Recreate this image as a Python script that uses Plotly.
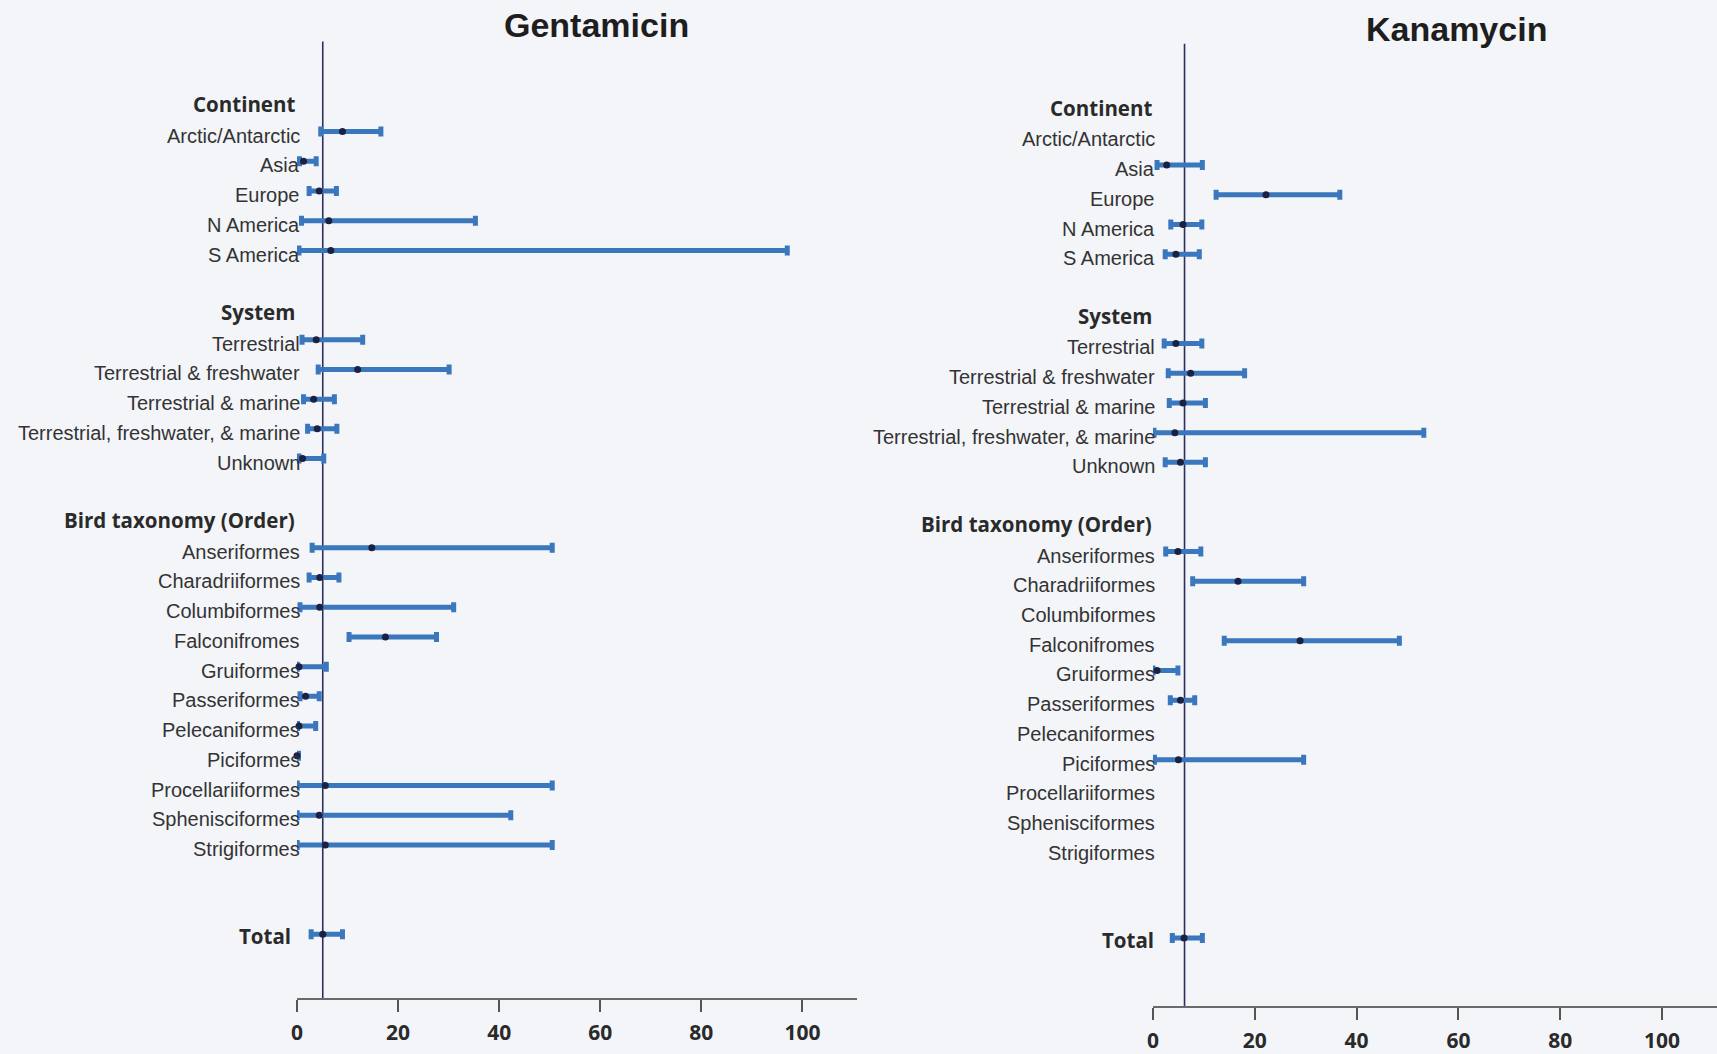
import plotly.graph_objects as go

# ---------------- data ----------------
ROW_LABELS = [
    "Continent", "Arctic/Antarctic", "Asia", "Europe", "N America", "S America", "",
    "System", "Terrestrial", "Terrestrial & freshwater", "Terrestrial & marine",
    "Terrestrial, freshwater, & marine", "Unknown", "",
    "Bird taxonomy (Order)", "Anseriformes", "Charadriiformes", "Columbiformes",
    "Falconifromes", "Gruiformes", "Passeriformes", "Pelecaniformes", "Piciformes",
    "Procellariiformes", "Sphenisciformes", "Strigiformes", "", "", "Total",
]
HEADERS = ["Continent", "System", "Bird taxonomy (Order)", "Total"]

# Gentamicin: estimate, lower, upper (None = not shown)
gen_est = [None, 9.0, 1.3, 4.4, 6.3, 6.7, None,
           None, 3.8, 12.0, 3.3, 4.0, 1.1, None,
           None, 14.8, 4.5, 4.5, 17.5, 0.4, 1.7, 0.4, 0.0, 5.6, 4.4, 5.6, None, None, 5.1]
gen_lo = [None, 4.7, 0.5, 2.4, 0.9, 0.4, None,
          None, 1.0, 4.2, 1.3, 2.1, 0.4, None,
          None, 3.0, 2.4, 0.6, 10.3, 0.05, 0.6, 0.1, 0.0, 0.05, 0.05, 0.05, None, None, 2.8]
gen_hi = [None, 16.6, 3.8, 7.8, 35.3, 97.0, None,
          None, 13.0, 30.1, 7.4, 7.9, 5.3, None,
          None, 50.5, 8.3, 31.0, 27.6, 5.8, 4.4, 3.7, 0.3, 50.5, 42.3, 50.5, None, None, 9.0]

# Kanamycin
kan_est = [None, None, 2.7, 22.2, 5.9, 4.5, None,
           None, 4.5, 7.4, 5.9, 4.3, 5.4, None,
           None, 4.9, 16.7, None, 28.9, 0.8, 5.4, None, 5.0, None, None, None, None, None, 6.1]
kan_lo = [None, None, 0.8, 12.4, 3.5, 2.4, None,
          None, 2.2, 3.0, 3.2, 0.2, 2.4, None,
          None, 2.5, 7.8, None, 14.0, 0.0, 3.4, None, 0.3, None, None, None, None, None, 3.8]
kan_hi = [None, None, 9.7, 36.7, 9.6, 9.1, None,
          None, 9.6, 18.0, 10.3, 53.2, 10.3, None,
          None, 9.4, 29.6, None, 48.4, 4.9, 8.2, None, 29.6, None, None, None, None, None, 9.7]

TITLES = ["Gentamicin", "Kanamycin"]
REF_VALUES = [5.1, 6.2]
X_TICKS = [0, 20, 40, 60, 80, 100]

# ---------------- style ----------------
W, H = 1717, 1054
BG = "#f3f5f9"
BAR = "#3a77bd"
DOT = "#1c2142"
REFLINE = "#2b3060"
TXT = "#2a2a2a"
LABEL_FONT = "Liberation Sans, Arial, sans-serif"
HEAD_FONT = "Open Sans, Lato, sans-serif"

rows = list(range(len(ROW_LABELS)))

fig = go.Figure()

panels = [
    dict(est=gen_est, lo=gen_lo, hi=gen_hi, xa="x", ya="y"),
    dict(est=kan_est, lo=kan_lo, hi=kan_hi, xa="x2", ya="y2"),
]

for p in panels:
    xs, ys, plus, minus = [], [], [], []
    for r, e, l, h in zip(rows, p["est"], p["lo"], p["hi"]):
        if e is None:
            continue
        xs.append(e)
        ys.append(r)
        plus.append(h - e)
        minus.append(e - l)
    fig.add_trace(go.Scatter(
        x=xs, y=ys, mode="markers", xaxis=p["xa"], yaxis=p["ya"],
        marker=dict(color=DOT, size=7),
        error_x=dict(type="data", symmetric=False, array=plus, arrayminus=minus,
                     color=BAR, thickness=5, width=5),
        cliponaxis=False, showlegend=False, hoverinfo="skip",
    ))

# axes
xaxis_common = dict(
    showgrid=False, zeroline=False, showline=True, linecolor="#6a6a6a", linewidth=1.5,
    ticks="outside", ticklen=12, tickwidth=1.5, tickcolor="#555555",
    tickvals=X_TICKS, ticktext=[str(v) for v in X_TICKS],
    tickfont=dict(family=HEAD_FONT, size=21, color=TXT, weight="bold"),
    ticklabelstandoff=3, fixedrange=True,
)
fig.update_layout(
    xaxis=dict(**xaxis_common, domain=[292 / W, 854 / W], range=[0, 110.8], anchor="y"),
    xaxis2=dict(**xaxis_common, domain=[1151 / W, 1.0], range=[0, 110.8], anchor="y2"),
    yaxis=dict(visible=False, domain=[(H - 999) / H, (H - 41.6) / H], range=[30.15, -2.03],
               anchor="x"),
    yaxis2=dict(visible=False, domain=[(H - 1007.4) / H, (H - 43.8) / H], range=[30.3, -2.08],
                anchor="x2"),
)

# reference lines
for ref, xa, ya in [(REF_VALUES[0], "x", "y"), (REF_VALUES[1], "x2", "y2")]:
    fig.add_shape(type="line", xref=xa, yref=f"{ya} domain", x0=ref, x1=ref, y0=0, y1=1,
                  line=dict(color=REFLINE, width=1.6), layer="below")

# row labels
annotations = []
for xa, ya, item_shift, head_shift, total_shift in [("x", "y", 5, 0, -4), ("x2", "y2", 4, 1, 3)]:
    for r, lab in zip(rows, ROW_LABELS):
        if not lab:
            continue
        if lab in HEADERS:
            annotations.append(dict(
                x=0, y=r, xref=xa, yref=ya, text=f"<b>{lab}</b>", showarrow=False,
                xanchor="right", yanchor="middle",
                xshift=total_shift if lab == "Total" else head_shift, yshift=-2,
                font=dict(family=HEAD_FONT, size=20.5, color=TXT),
            ))
        else:
            annotations.append(dict(
                x=0, y=r, xref=xa, yref=ya, text=lab, showarrow=False,
                xanchor="right", yanchor="middle", xshift=item_shift, yshift=-4,
                font=dict(family=LABEL_FONT, size=20, color="#333333"),
            ))

# titles
annotations.append(dict(x=593 / W, y=1 - 25 / H, xref="paper", yref="paper", text=f"<b>{TITLES[0]}</b>",
                        showarrow=False, xanchor="center", yanchor="middle",
                        font=dict(family=LABEL_FONT, size=34, color="#1e1e1e")))
annotations.append(dict(x=1456 / W, y=1 - 29 / H, xref="paper", yref="paper", text=f"<b>{TITLES[1]}</b>",
                        showarrow=False, xanchor="center", yanchor="middle",
                        font=dict(family=LABEL_FONT, size=34, color="#1e1e1e")))

fig.update_layout(
    annotations=annotations,
    width=W, height=H,
    margin=dict(l=0, r=0, t=0, b=0),
    paper_bgcolor=BG, plot_bgcolor=BG,
)

fig.write_html(
    "out.html",
    config={"displayModeBar": False},
    post_script="document.body.style.margin='0px';document.body.style.overflow='hidden';"
                "document.body.style.background='" + BG + "';",
)
